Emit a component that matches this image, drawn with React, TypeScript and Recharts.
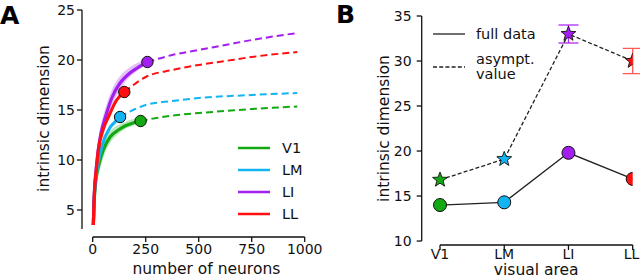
import { ComposedChart, Line, Area, Scatter, XAxis, YAxis, ReferenceLine, ErrorBar, Legend } from "recharts";

const FONT = "'DejaVu Sans', sans-serif";

const areaNames = ["V1", "LM", "LI", "LL"];
const areaColors = ["#13a913", "#14b4f2", "#a31ff0", "#ff0f0f"];

// panel A: measured curves (number of neurons -> intrinsic dimension)
const v1X = [3, 6, 10, 15, 30, 50, 82, 121, 152, 190, 226];
const v1Y = [3.5, 5.5, 6.8, 8.0, 9.6, 11.0, 12.3, 13.0, 13.4, 13.7, 13.9];
const lmX = [3, 6, 10, 15, 30, 45, 80, 105, 129];
const lmY = [3.5, 5.6, 7.2, 8.3, 10.2, 11.5, 13.2, 13.8, 14.3];
const liX = [3, 6, 10, 15, 26, 40, 60, 90, 129, 170, 210, 258];
const liY = [3.5, 5.8, 7.6, 8.8, 11.0, 12.8, 14.3, 16.2, 17.7, 18.6, 19.2, 19.8];
const llX = [3, 6, 10, 15, 26, 50, 74, 113, 149];
const llY = [3.5, 5.7, 7.5, 8.6, 10.9, 13.1, 14.3, 16.0, 16.8];

// panel A: fitted extrapolation (dashed)
const v1FitX = [226, 300, 400, 500, 625, 750, 965];
const v1FitY = [13.9, 14.2, 14.5, 14.7, 14.9, 15.1, 15.35];
const lmFitX = [129, 200, 250, 375, 500, 750, 965];
const lmFitY = [14.3, 15.1, 15.5, 15.9, 16.2, 16.5, 16.7];
const liFitX = [258, 375, 500, 625, 750, 965];
const liFitY = [19.8, 20.5, 21.0, 21.5, 22.0, 22.7];
const llFitX = [149, 250, 375, 500, 625, 750, 965];
const llFitY = [16.8, 18.3, 19.0, 19.5, 19.9, 20.3, 20.8];

// panel A: spread across subsamples (shaded)
const v1BandX = [15, 30, 50, 82, 121, 152, 190, 226];
const v1BandLo = [7.3, 8.7, 10.2, 11.7, 12.6, 13.1, 13.4, 13.7];
const v1BandHi = [8.8, 10.5, 11.8, 12.9, 13.5, 13.8, 14.1, 14.2];
const liBandX = [15, 26, 40, 60, 90, 129, 170, 210, 258];
const liBandLo = [8.3, 10.3, 12.0, 13.5, 15.4, 17.0, 18.2, 18.9, 19.6];
const liBandHi = [9.5, 11.8, 13.6, 15.2, 17.0, 18.4, 19.2, 19.7, 20.1];

const xTicksA = [0, 250, 500, 750, 1000];
const yTicksA = [5, 10, 15, 20, 25];

// panel B
const fullDim = [14.0, 14.3, 19.8, 16.9];
const asymDim = [16.8, 19.1, 33.0, 30.0];
const asymErr = [0, 0, 1.0, 1.4];
const errColors = ["#13a913", "#14b4f2", "#b02af2", "#ff5a5a"];
const yTicksB = [10, 15, 20, 25, 30, 35];

const zip = (xs: number[], ys: number[]) => xs.map((x, i) => ({ x, y: ys[i] }));
const band = (xs: number[], lo: number[], hi: number[]) => xs.map((x, i) => ({ x, range: [lo[i], hi[i]] }));

const solid = [zip(v1X, v1Y), zip(lmX, lmY), zip(liX, liY), zip(llX, llY)];
const fits = [zip(v1FitX, v1FitY), zip(lmFitX, lmFitY), zip(liFitX, liFitY), zip(llFitX, llFitY)];
const bands = [
  { data: band(v1BandX, v1BandLo, v1BandHi), color: areaColors[0] },
  { data: band(liBandX, liBandLo, liBandHi), color: areaColors[2] },
];

const bData = areaNames.map((name, i) => ({ i, name, full: fullDim[i], asym: asymDim[i], err: asymErr[i] }));

const tickStyle = { fontSize: 14, fill: "#111", fontFamily: FONT };

function starPath(cx: number, cy: number, R: number, r: number) {
  let d = "";
  for (let k = 0; k < 10; k++) {
    const rad = k % 2 === 0 ? R : r;
    const a = -Math.PI / 2 + (k * Math.PI) / 5;
    d += (k === 0 ? "M" : "L") + (cx + rad * Math.cos(a)).toFixed(2) + "," + (cy + rad * Math.sin(a)).toFixed(2);
  }
  return d + "Z";
}

const yTitle = (dx: number, dy: number) => (props: any) => {
  const vb = props.viewBox;
  const x = vb.x + dx;
  const y = vb.y + vb.height / 2 + dy;
  return (
    <text x={x} y={y} transform={`rotate(-90 ${x} ${y})`} textAnchor="middle" dominantBaseline="central"
      fontSize={15.5} fontFamily={FONT} fill="#111">
      intrinsic dimension
    </text>
  );
};

const xTitle = (text: string, dx: number, y: number) => (props: any) => {
  const vb = props.viewBox;
  return (
    <text x={vb.x + vb.width / 2 + dx} y={y} textAnchor="middle" dominantBaseline="central"
      fontSize={15.5} fontFamily={FONT} fill="#111">
      {text}
    </text>
  );
};

function LegendA() {
  return (
    <div style={{ fontFamily: FONT, fontSize: 14.5, color: "#111" }}>
      {areaNames.map((n, i) => (
        <div key={n} style={{ height: 22, display: "flex", alignItems: "center" }}>
          <svg width={44} height={22}>
            <line x1={0} x2={32} y1={11} y2={11} stroke={areaColors[i]} strokeWidth={2.5} />
          </svg>
          <span>{n}</span>
        </div>
      ))}
    </div>
  );
}

function LegendB() {
  return (
    <div style={{ fontFamily: FONT, fontSize: 14.5, color: "#111", lineHeight: "15px" }}>
      <div style={{ height: 22, display: "flex", alignItems: "center" }}>
        <svg width={43} height={22}>
          <line x1={0} x2={32} y1={11} y2={11} stroke="#222" strokeWidth={1.3} />
        </svg>
        <span>full data</span>
      </div>
      <div style={{ height: 44, display: "flex", alignItems: "center" }}>
        <svg width={43} height={22}>
          <line x1={0} x2={32} y1={11} y2={11} stroke="#222" strokeWidth={1.3} strokeDasharray="4 2.2" />
        </svg>
        <span>asympt.<br />value</span>
      </div>
    </div>
  );
}

export default function App() {
  return (
    <div style={{ position: "absolute", left: 0, top: 0, width: 640, height: 279, background: "#fff" }}>
      <div style={{ position: "absolute", left: 0, top: 3, lineHeight: "26px", fontFamily: FONT, fontWeight: "bold", fontSize: 25, color: "#000" }}>A</div>
      <div style={{ position: "absolute", left: 336, top: 2, lineHeight: "26px", fontFamily: FONT, fontWeight: "bold", fontSize: 25, color: "#000" }}>B</div>

      <div style={{ position: "absolute", left: 0, top: 0 }}>
        <ComposedChart width={330} height={279} margin={{ top: 10, right: 25.3, left: 22, bottom: 12 }}>
          <XAxis type="number" dataKey="x" domain={[-50.5, 1000]} allowDataOverflow ticks={xTicksA}
            axisLine={false} tickSize={5} tickLine={{ stroke: "#111", strokeWidth: 1.3 }} tick={tickStyle}
            height={30} label={{ content: xTitle("number of neurons", 13, 269) }} />
          <YAxis type="number" dataKey="y" domain={[2.3, 25]} allowDataOverflow ticks={yTicksA}
            axisLine={false} tickSize={5} tickMargin={2} tickLine={{ stroke: "#111", strokeWidth: 1.3 }} tick={tickStyle}
            width={60} label={{ content: yTitle(22, -5) }} />
          <ReferenceLine segment={[{ x: -50.5, y: 3.1 }, { x: -50.5, y: 25 }]} stroke="#111" strokeWidth={1.3} ifOverflow="visible" />
          <ReferenceLine segment={[{ x: 0, y: 2.3 }, { x: 1000, y: 2.3 }]} stroke="#111" strokeWidth={1.3} ifOverflow="visible" />
          {bands.map((b, i) => (
            <Area key={`band${i}`} data={b.data} dataKey="range" type="monotone" stroke="none"
              fill={b.color} fillOpacity={0.28} isAnimationActive={false} />
          ))}
          {solid.map((d, i) => (
            <Line key={`s${i}`} data={d} dataKey="y" type="monotone" stroke={areaColors[i]} strokeWidth={3.2}
              dot={false} isAnimationActive={false} />
          ))}
          {fits.map((d, i) => (
            <Line key={`f${i}`} data={d} dataKey="y" type="monotone" stroke={areaColors[i]} strokeWidth={2}
              strokeDasharray="7 4" dot={false} isAnimationActive={false} />
          ))}
          {solid.map((d, i) => (
            <Scatter key={`e${i}`} data={[d[d.length - 1]]} dataKey="y" isAnimationActive={false}
              shape={(p: any) => <circle cx={p.cx} cy={p.cy} r={5.7} fill={areaColors[i]} stroke="#111" strokeWidth={1} />} />
          ))}
          <Legend layout="vertical" align="center" verticalAlign="middle" content={() => <LegendA />}
            wrapperStyle={{ position: "absolute", left: 238, top: 137, width: 80 }} />
        </ComposedChart>
      </div>

      <div style={{ position: "absolute", left: 330, top: 0 }}>
        <ComposedChart width={310} height={279} data={bData} margin={{ top: 16, right: 7.3, left: 31.7, bottom: 4 }}>
          <XAxis type="number" dataKey="i" domain={[-0.285, 3]} allowDataOverflow ticks={[0, 1, 2, 3]}
            tickFormatter={(v: number) => areaNames[v]} axisLine={false} tickSize={5} tickMargin={-1}
            tickLine={{ stroke: "#111", strokeWidth: 1.3 }} tick={tickStyle} height={30}
            label={{ content: xTitle("visual area", 9, 269.5) }} />
          <YAxis type="number" domain={[9.56, 35]} allowDataOverflow ticks={yTicksB} axisLine={false}
            tickSize={5} tickMargin={5} tickLine={{ stroke: "#111", strokeWidth: 1.3 }} tick={tickStyle}
            width={60} label={{ content: yTitle(22, -2) }} />
          <ReferenceLine segment={[{ x: -0.285, y: 10 }, { x: -0.285, y: 35 }]} stroke="#111" strokeWidth={1.3} ifOverflow="visible" />
          <ReferenceLine segment={[{ x: 0, y: 9.56 }, { x: 3, y: 9.56 }]} stroke="#111" strokeWidth={1.3} ifOverflow="visible" />
          <Line dataKey="full" stroke="#222" strokeWidth={1.3} isAnimationActive={false}
            dot={(p: any) => <circle key={`c${p.index}`} cx={p.cx} cy={p.cy} r={6.5} fill={areaColors[p.index]} stroke="#111" strokeWidth={1} />} />
          <Line dataKey="asym" stroke="#222" strokeWidth={1.3} strokeDasharray="4 2.2" isAnimationActive={false}
            dot={(p: any) => <path key={`s${p.index}`} d={starPath(p.cx, p.cy, 7.8, 3.3)} fill={areaColors[p.index]} stroke="#111" strokeWidth={0.9} strokeDasharray="none" />}>
            {areaNames.map((_, k) =>
              asymErr[k] > 0 ? (
                <ErrorBar key={k} dataKey={(d: any) => (d.i === k ? d.err : 0)} width={10} stroke={errColors[k]} strokeWidth={1.3} />
              ) : null
            )}
          </Line>
          <Legend layout="vertical" align="center" verticalAlign="middle" content={() => <LegendB />}
            wrapperStyle={{ position: "absolute", left: 103, top: 23, width: 140 }} />
        </ComposedChart>
      </div>
    </div>
  );
}
